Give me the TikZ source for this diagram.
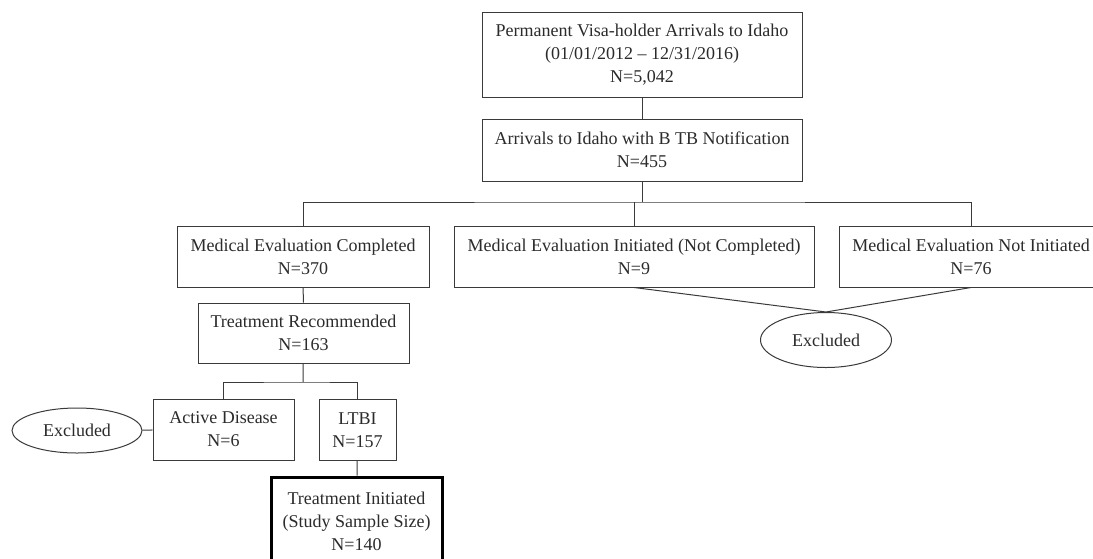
\documentclass[tikz,border=0pt]{standalone}
\usepackage{fontspec}
\setmainfont{Liberation Serif}
\usetikzlibrary{shapes.geometric}
\definecolor{ln}{HTML}{3A3A3A}
\definecolor{tx}{HTML}{2B2B2B}

\begin{document}
\begin{tikzpicture}[x=1pt,y=-1pt,line width=1pt,draw=ln,
		box/.style={draw=ln,fill=white,align=center,inner sep=0pt,text=tx,font=\fontsize{18}{23}\selectfont},
		oval/.style={box,ellipse}]
		\useasboundingbox (0,0) rectangle (1093,558);
		\node[box,minimum width=320,minimum height=85] (arrivals) at (642,54.5) {Permanent Visa-holder Arrivals to Idaho\\(01/01/2012 -- 12/31/2016)\\N=5,042};
		\node[box,minimum width=320,minimum height=62] (notified) at (642,150) {Arrivals to Idaho with B TB Notification\\N=455};
		\node[box,minimum width=252,minimum height=61] (evalDone) at (303,256.5) {Medical Evaluation Completed\\N=370};
		\node[box,minimum width=360,minimum height=61] (evalPart) at (634,256.5) {Medical Evaluation Initiated (Not Completed)\\N=9};
		\node[box,minimum width=264,minimum height=61] (evalNone) at (971,256.5) {Medical Evaluation Not Initiated\\N=76};
		\node[oval,minimum width=131,minimum height=55] (exclR) at (826,340) {Excluded};
		\node[box,minimum width=211,minimum height=60] (recom) at (303.5,333) {Treatment Recommended\\N=163};
		\node[box,minimum width=141,minimum height=61] (active) at (223.5,429.5) {Active Disease\\N=6};
		\node[box,minimum width=77,minimum height=61] (ltbi) at (357.5,430) {LTBI\\N=157};
		\node[oval,minimum width=130,minimum height=45] (exclL) at (77,430.5) {Excluded};
		\node[box,line width=3pt,draw=black,minimum width=171,minimum height=88] (init) at (356.5,521) {Treatment Initiated\\(Study Sample Size)\\N=140};
		\coordinate (split1) at (642,202);
		\coordinate (split2) at (303,382);
		\draw (arrivals) -- (notified);
		\draw (notified) -- (split1);
		\draw (evalDone.north) |- (split1) -| (evalNone.north);
		\draw (evalPart.north) -- (evalPart.north |- split1);
		\draw (evalPart.south) -- (exclR.north) -- (evalNone.south);
		\draw (evalDone) -- (recom);
		\draw (recom) -- (split2);
		\draw (active.north) |- (split2) -| (ltbi.north);
		\draw (exclL) -- (active);
		\draw (ltbi) -- (init);
	\end{tikzpicture}
\end{document}
